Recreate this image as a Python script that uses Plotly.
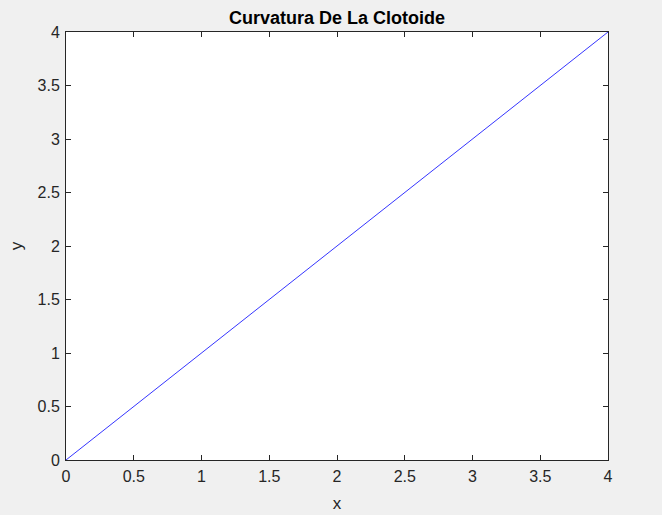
import plotly.graph_objects as go

x_vals = [0, 4]
y_vals = [0, 4]
tick_vals = [0, 0.5, 1, 1.5, 2, 2.5, 3, 3.5, 4]
tick_text = ["0", "0.5", "1", "1.5", "2", "2.5", "3", "3.5", "4"]

FONT = "Liberation Sans, Arial, Helvetica, sans-serif"

fig = go.Figure()
fig.add_trace(go.Scatter(x=x_vals, y=y_vals, mode="lines",
                         line=dict(color="#0000ff", width=0.8), showlegend=False))

axis_common = dict(
    range=[0, 4], tickmode="array", tickvals=tick_vals, ticktext=tick_text,
    ticks="inside", ticklen=5, tickwidth=1, tickcolor="#262626",
    showline=True, linecolor="#262626", linewidth=1, mirror="ticks",
    showgrid=False, zeroline=False, automargin=False,
    tickfont=dict(family=FONT, size=16, color="#262626"),
)

fig.update_layout(
    width=662, height=515,
    paper_bgcolor="#f0f0f0", plot_bgcolor="#ffffff",
    margin=dict(l=66, r=54, t=32, b=55),
    title=dict(text="<b>Curvatura De La Clotoide</b>", x=0.5, xref="paper", xanchor="center",
               y=1, yref="paper", yanchor="bottom", pad=dict(b=8),
               font=dict(family=FONT, size=18, color="#000000")),
    xaxis=dict(**axis_common, ticklabelstandoff=2,
               title=dict(text="x", standoff=12,
                          font=dict(family=FONT, size=17, color="#262626"))),
    yaxis=dict(**axis_common, ticklabelstandoff=2,
               title=dict(text="y", standoff=10,
                          font=dict(family=FONT, size=17, color="#262626"))),
)

fig.write_html("out.html", config={"displayModeBar": False},
               post_script="document.body.style.margin='0';document.body.style.padding='0';document.body.style.overflow='hidden';")
